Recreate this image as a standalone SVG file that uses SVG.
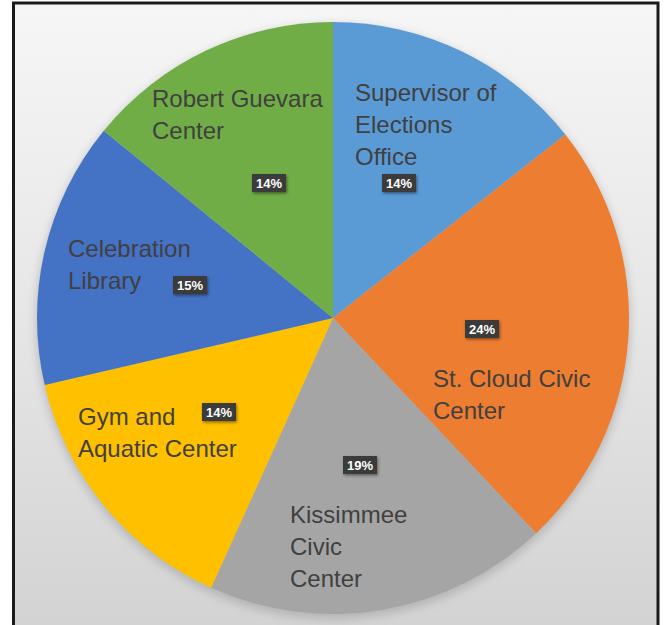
<svg xmlns="http://www.w3.org/2000/svg" width="665" height="625" viewBox="0 0 665 625">
  <defs>
    <linearGradient id="bg" x1="0" y1="0" x2="0" y2="1">
      <stop offset="0" stop-color="#f6f6f6"/>
      <stop offset="0.5" stop-color="#e6e6e6"/>
      <stop offset="1" stop-color="#d2d2d2"/>
    </linearGradient>
    <filter id="pieShadow" x="-10%" y="-10%" width="120%" height="120%">
      <feGaussianBlur stdDeviation="5"/>
    </filter>
    <filter id="boxShadow" x="-30%" y="-40%" width="160%" height="180%">
      <feDropShadow dx="1" dy="1.5" stdDeviation="1.5" flood-color="#000" flood-opacity="0.45"/>
    </filter>
    <style>
      .lbl { font-family: "Liberation Sans", Arial, sans-serif; font-size: 24px; fill: #404040; }
      .pct { font-family: "Liberation Sans", Arial, sans-serif; font-size: 13px; font-weight: bold; fill: #ffffff; text-anchor: middle; }
      .box { fill: #3a3a3a; filter: url(#boxShadow); }
    </style>
  </defs>

  <rect x="0" y="0" width="665" height="625" fill="#ffffff"/>
  <rect x="13.5" y="3" width="644.5" height="640" fill="url(#bg)" stroke="#1a1a1a" stroke-width="3"/>

  <circle cx="333" cy="322" r="297" fill="#9a9a9a" opacity="0.55" filter="url(#pieShadow)"/>

  <g id="supervisor-of-elections">
    <path d="M333,318 L333,22 A296,296 0 0 1 565.3,134.5 Z" fill="#5B9BD5"/>
    <text class="lbl" x="355" y="101">Supervisor of</text>
    <text class="lbl" x="355" y="133">Elections</text>
    <text class="lbl" x="355" y="165">Office</text>
    <rect class="box" x="382" y="174" width="34" height="18"/>
    <text class="pct" x="399" y="188">14%</text>
  </g>

  <g id="st-cloud-civic-center">
    <path d="M333,318 L565.3,134.5 A296,296 0 0 1 536.1,533.3 Z" fill="#ED7D31"/>
    <text class="lbl" x="433" y="387">St. Cloud Civic</text>
    <text class="lbl" x="433" y="419">Center</text>
    <rect class="box" x="465" y="320" width="34" height="18"/>
    <text class="pct" x="482" y="334">24%</text>
  </g>

  <g id="kissimmee-civic-center">
    <path d="M333,318 L536.1,533.3 A296,296 0 0 1 211.2,587.8 Z" fill="#A5A5A5"/>
    <text class="lbl" x="290" y="523">Kissimmee</text>
    <text class="lbl" x="290" y="555">Civic</text>
    <text class="lbl" x="290" y="587">Center</text>
    <rect class="box" x="343" y="456" width="34" height="18"/>
    <text class="pct" x="360" y="470">19%</text>
  </g>

  <g id="gym-and-aquatic-center">
    <path d="M333,318 L211.2,587.8 A296,296 0 0 1 44.7,385.1 Z" fill="#FFC000"/>
    <text class="lbl" x="78" y="425">Gym and</text>
    <text class="lbl" x="78" y="457">Aquatic Center</text>
    <rect class="box" x="202" y="403" width="34" height="18"/>
    <text class="pct" x="219" y="417">14%</text>
  </g>

  <g id="celebration-library">
    <path d="M333,318 L44.7,385.1 A296,296 0 0 1 103.8,130.7 Z" fill="#4472C4"/>
    <text class="lbl" x="68" y="257">Celebration</text>
    <text class="lbl" x="68" y="289">Library</text>
    <rect class="box" x="173" y="276" width="34" height="18"/>
    <text class="pct" x="190" y="290">15%</text>
  </g>

  <g id="robert-guevara-center">
    <path d="M333,318 L103.8,130.7 A296,296 0 0 1 333,22 Z" fill="#70AD47"/>
    <text class="lbl" x="152" y="107">Robert Guevara</text>
    <text class="lbl" x="152" y="139">Center</text>
    <rect class="box" x="252" y="174" width="34" height="18"/>
    <text class="pct" x="269" y="188">14%</text>
  </g>

  <g id="connectors"/>
</svg>
